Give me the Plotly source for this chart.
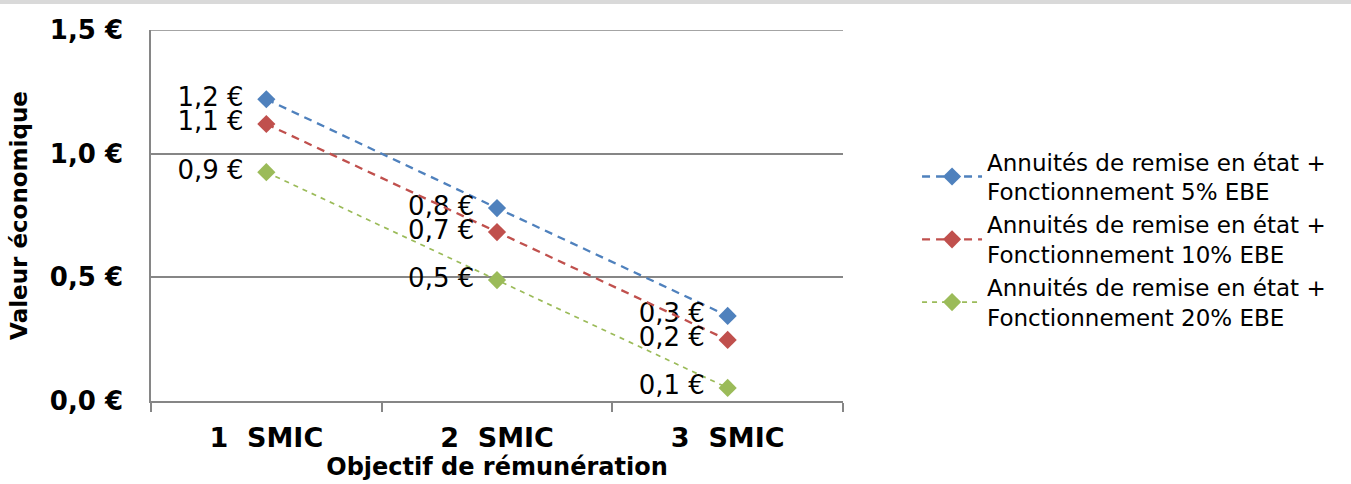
import plotly.graph_objects as go

categories = ["1  SMIC", "2  SMIC", "3  SMIC"]
series_names = [
    "Annuités de remise en état +<br>Fonctionnement 5% EBE",
    "Annuités de remise en état +<br>Fonctionnement 10% EBE",
    "Annuités de remise en état +<br>Fonctionnement 20% EBE",
]
values_5 = [1.22, 0.78, 0.344]
values_10 = [1.12, 0.683, 0.247]
values_20 = [0.925, 0.489, 0.053]
y_tickvals = [0.0, 0.5, 1.0, 1.5]
y_ticktext = ["0,0 €", "0,5 €", "1,0 €", "1,5 €"]

colors = ["#4F81BD", "#C0504D", "#9BBB59"]
widths = [2.3, 2.3, 1.7]
dashes = ["8px,6px", "8px,6px", "5px,5px"]


def fmt(v):
    return f"{v:.1f}".replace(".", ",") + " €\u2002"


fig = go.Figure()
for name, vals, c, w, d in zip(series_names, [values_5, values_10, values_20], colors, widths, dashes):
    fig.add_trace(go.Scatter(
        x=categories, y=vals, name=name,
        mode="lines+markers+text",
        line=dict(color=c, width=w, dash=d),
        marker=dict(symbol="diamond", size=14, color=c),
        text=[fmt(v) for v in vals],
        textposition="middle left",
        textfont=dict(family="DejaVu Sans", size=26, color="#000000"),
        cliponaxis=False,
    ))

fig.update_layout(
    width=1351, height=484,
    margin=dict(l=151, r=508, t=30, b=83, autoexpand=False),
    paper_bgcolor="white", plot_bgcolor="white",
    font=dict(family="DejaVu Sans", color="#000000"),
    showlegend=True,
    legend=dict(
        x=1.107, y=0.435, xanchor="left", yanchor="middle",
        font=dict(family="DejaVu Sans", size=23, color="#000000"),
        tracegroupgap=3, itemwidth=60,
        bgcolor="rgba(0,0,0,0)",
    ),
    xaxis=dict(
        type="category",
        range=[-0.5, 2.5],
        tickson="boundaries",
        ticks="outside", ticklen=9, tickcolor="#868686", tickwidth=1.5,
        showline=True, linecolor="#868686", linewidth=1.5,
        showgrid=False, automargin=False,
        ticklabelstandoff=12,
        tickfont=dict(family="DejaVu Sans", size=27, color="#000000", weight="bold"),
        title=dict(text="Objectif de rémunération",
                   font=dict(family="DejaVu Sans", size=24, color="#000000", weight="bold"),
                   standoff=0),
    ),
    yaxis=dict(
        range=[0, 1.5],
        tickvals=y_tickvals, ticktext=y_ticktext,
        showline=True, linecolor="#868686", linewidth=1.5,
        showgrid=True, gridcolor="#868686", gridwidth=1.5,
        zeroline=False, automargin=False,
        ticks="", ticklabelstandoff=21,
        tickfont=dict(family="DejaVu Sans", size=26, color="#000000", weight="bold"),
        title=dict(text="Valeur économique",
                   font=dict(family="DejaVu Sans", size=23, color="#000000", weight="bold"),
                   standoff=16),
    ),
    shapes=[
        dict(type="line", xref="paper", yref="y", x0=0, x1=1, y0=1.5, y1=1.5,
             line=dict(color="#868686", width=1.5)),
        dict(type="rect", xref="paper", yref="paper", x0=-1, x1=2,
             y0=1 + 26/371, y1=1 + 40/371, fillcolor="#d9d9d9", line=dict(width=0), layer="above"),
    ],
)

fig.write_html("out.html", config={"displayModeBar": False},
               post_script="document.body.style.margin='0';document.body.style.padding='0';")
